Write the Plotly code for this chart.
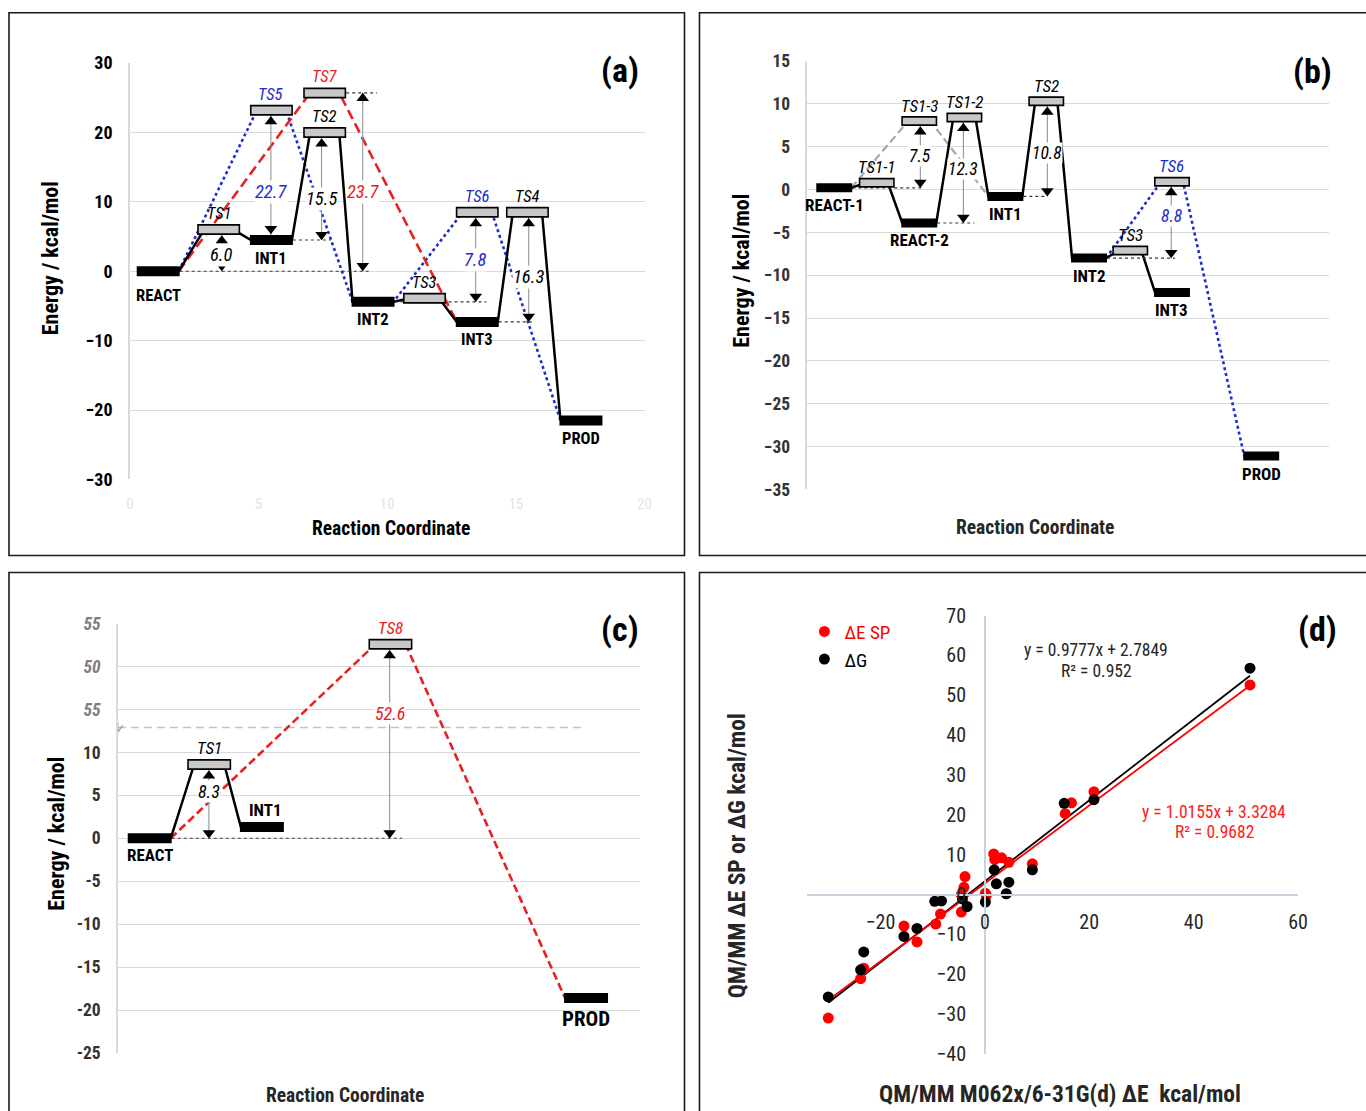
import numpy as np
import plotly.graph_objects as go

W, H = 1366, 1111
FONT = "Liberation Sans Narrow, Roboto Condensed, Roboto, Liberation Sans, sans-serif"
BLACK = "#000000"
BLUE = "#1f2ccc"
RED = "#e82020"
TSGRAY = "#c8c8c8"
LGRAY = "#a8a8a8"

# ---------------- Panel (a) data ----------------
a_states = ["REACT", "TS1", "INT1", "TS5", "TS7", "TS2", "INT2", "TS3", "INT3", "TS6", "TS4", "PROD"]
a_coord = [1.10, 3.45, 5.50, 5.50, 7.57, 7.57, 9.45, 11.45, 13.50, 13.50, 15.45, 17.53]
a_energy = [0.0, 6.0, 4.5, 23.2, 25.7, 20.0, -4.4, -3.9, -7.3, 8.5, 8.5, -21.5]
a_label_color = ["black", "black", "black", "blue", "red", "black", "black", "black", "black", "blue", "black", "black"]
a_black_path = ["REACT", "TS1", "INT1", "TS2", "INT2", "TS3", "INT3", "TS4", "PROD"]
a_blue_path = ["REACT", "TS5", "INT2", "TS6", "PROD"]
a_red_path = ["REACT", "TS7", "INT3"]
a_barrier_text = ["6.0", "22.7", "15.5", "23.7", "7.8", "16.3"]
a_barrier_coord = [3.57, 5.48, 7.45, 9.05, 13.44, 15.50]
a_barrier_from = ["REACT", "INT1", "INT1", "REACT", "INT2", "INT3"]
a_barrier_to = ["TS1", "TS5", "TS2", "TS7", "TS6", "TS4"]
a_barrier_text_y = [2.3, 11.4, 10.4, 11.4, 1.6, -0.9]
a_barrier_color = ["black", "blue", "black", "red", "blue", "black"]
a_guide_from = ["REACT", "INT1", "TS7", "INT2", "INT3"]
a_guide_to = [9.3, 7.8, 9.6, 13.85, 15.7]
a_x_ticks = [0, 5, 10, 15, 20]
a_y_ticks = [-30, -20, -10, 0, 10, 20, 30]

# ---------------- Panel (b) data ----------------
b_states = ["REACT-1", "TS1-1", "REACT-2", "TS1-3", "TS1-2", "INT1", "TS2", "INT2", "TS3", "INT3", "TS6", "PROD"]
b_coord = [1.03, 2.66, 4.29, 4.29, 6.02, 7.59, 9.16, 10.80, 12.38, 13.98, 13.98, 17.40]
b_energy = [0.2, 0.8, -3.9, 8.0, 8.4, -0.8, 10.3, -8.0, -7.1, -12.0, 0.9, -31.1]
b_label_color = ["black"] * 10 + ["blue", "black"]
b_black_path = ["REACT-1", "TS1-1", "REACT-2", "TS1-2", "INT1", "TS2", "INT2", "TS3", "INT3"]
b_gray_path = ["REACT-1", "TS1-3", "INT1"]
b_blue_path = ["INT2", "TS6", "PROD"]
b_barrier_text = ["7.5", "12.3", "10.8", "8.8"]
b_barrier_coord = [4.33, 5.98, 9.20, 13.95]
b_barrier_from = ["REACT-1", "REACT-2", "INT1", "INT2"]
b_barrier_to = ["TS1-3", "TS1-2", "TS2", "TS6"]
b_barrier_text_y = [3.9, 2.4, 4.25, -3.1]
b_barrier_color = ["black", "black", "black", "blue"]
b_guide_from = ["REACT-1", "REACT-2", "INT1", "INT2"]
b_guide_to = [4.4, 6.4, 9.2, 14.1]
b_y_ticks = [-35, -30, -25, -20, -15, -10, -5, 0, 5, 10, 15]

# ---------------- Panel (c) data ----------------
c_states = ["REACT", "TS1", "INT1", "TS8", "PROD"]
c_coord = [1.22, 3.50, 5.52, 10.45, 17.95]
c_energy = [0.0, 8.6, 1.3, 52.6, -18.6]
c_label_color = ["black", "black", "black", "red", "black"]
c_black_path = ["REACT", "TS1", "INT1"]
c_red_path = ["REACT", "TS8", "PROD"]
c_barrier_text = ["8.3", "52.6"]
c_barrier_coord = [3.49, 10.42]
c_barrier_from = ["REACT", "REACT"]
c_barrier_to = ["TS1", "TS8"]
c_barrier_text_y = [5.5, 14.5]
c_barrier_color = ["black", "red"]
c_guide_from = ["REACT"]
c_guide_to = [10.9]
c_y_ticks = [-25, -20, -15, -10, -5, 0, 5, 10, 15, 20, 25]
c_y_ticktext = ["-25", "-20", "-15", "-10", "-5", "0", "5", "10", "55", "50", "55"]
c_break_level = 12.9
c_break_shift = 30.0

# ---------------- Panel (d) data ----------------
d_x_dE = [-30.0, -23.8, -23.2, -15.5, -13.0, -9.4, -8.5, -4.5, -4.5, -4.0, -3.8, 0.1, 0.3,
          1.7, 1.9, 3.2, 4.6, 9.1, 15.4, 16.6, 20.9, 50.8]
d_y_dE = [-31.0, -21.1, -18.5, -7.9, -11.9, -7.4, -4.9, -4.4, 0.0, 1.8, 4.5, 0.3, -0.2,
          10.2, 8.8, 9.2, 8.1, 7.7, 20.3, 23.0, 25.8, 52.6]
d_x_dG = [-30.0, -23.8, -23.2, -15.5, -13.0, -9.6, -8.3, -4.3, -3.4, 0.1, 1.8, 2.2, 4.1,
          4.6, 9.1, 15.2, 20.9, 50.8]
d_y_dG = [-25.7, -18.9, -14.4, -10.5, -8.5, -1.7, -1.6, -1.1, -3.0, -1.9, 6.2, 2.7, 0.2,
          3.1, 6.2, 22.9, 23.8, 56.8]
d_trend_black = (1.0155, 3.3284)
d_trend_red = (0.9777, 2.7849)
d_x_ticks = [-20, 0, 20, 40, 60]
d_y_ticks = [-40, -30, -20, -10, 0, 10, 20, 30, 40, 50, 60, 70]

# ---------------- page geometry ----------------
# the photographed page maps figure pixels p -> OFF + SCALE * p; compensate so that
# the layout is specified in target-picture pixels
OX, OY, SX, SY = 4.0, 12.0, 0.9905, 0.9775


def cx(px):
    return (px - OX) / SX


def cy(py):
    return (py - OY) / SY


def fx(px):
    return cx(px) / W


def fy(py):
    return 1 - cy(py) / H


PANELS = {
    "a": dict(xa="x", ya="y", xpx=(130, 645), ypx=(63, 479), xr=(0, 20), yr=(-30, 30)),
    "b": dict(xa="x2", ya="y2", xpx=(808, 1330), ypx=(61, 489), xr=(0, 20), yr=(-35, 15)),
    "c": dict(xa="x3", ya="y3", xpx=(118, 640), ypx=(623, 1052), xr=(0, 20), yr=(-25, 25)),
    "d": dict(xa="x4", ya="y4", xpx=(808, 1299), ypx=(615, 1053), xr=(-34, 60), yr=(-40, 70)),
}
for P in PANELS.values():
    x0, x1 = cx(P["xpx"][0]), cx(P["xpx"][1])
    y0, y1 = cy(P["ypx"][0]), cy(P["ypx"][1])
    P["ppx"] = (x1 - x0) / (P["xr"][1] - P["xr"][0])
    P["ppy"] = (y1 - y0) / (P["yr"][1] - P["yr"][0])
    P["xdom"] = [x0 / W, x1 / W]
    P["ydom"] = [1 - y1 / H, 1 - y0 / H]

COLORS = {"black": BLACK, "blue": BLUE, "red": RED}

fig = go.Figure()


def add_line(P, xs, ys, color, width, dash="solid"):
    fig.add_trace(go.Scatter(x=xs, y=ys, xaxis=P["xa"], yaxis=P["ya"], mode="lines",
                             line=dict(color=color, width=width, dash=dash),
                             hoverinfo="skip", showlegend=False))


def draw_energy(P, states, coord, energy, label_color, paths, guide_from, guide_to,
                btext, bcoord, bfrom, bto, bty, bcolor, bar_px, bar_h, lab_size, num_size,
                lab_override=None):
    ppx, ppy = P["ppx"], P["ppy"]
    hw = bar_px / SX / 2 / ppx
    pos = {s: (c, e) for s, c, e in zip(states, coord, energy)}
    is_ts = {s: s.startswith("TS") for s in states}
    for seq, color, dash, width in paths:
        xs, ys = [], []
        for i, s in enumerate(seq):
            c, e = pos[s]
            ins = (7 if is_ts[s] else 1) / ppx
            if i > 0:
                xs.append(c - hw + ins); ys.append(e)
            if i < len(seq) - 1:
                xs.append(c + hw - ins); ys.append(e)
        add_line(P, xs, ys, color, width, dash)
    for s, xe in zip(guide_from, guide_to):
        c, e = pos[s]
        add_line(P, [c + hw, xe], [e, e], "#3a3a3a", 1.2, "dot")
    for t, bx, f, to, ty, col in zip(btext, bcoord, bfrom, bto, bty, bcolor):
        add_line(P, [bx, bx], [pos[to][1], pos[f][1]], "#8a8a8a", 1)
    for s in states:
        c, e = pos[s]
        if is_ts[s]:
            add_line(P, [c - hw, c + hw], [e, e], BLACK, bar_h + 1)
            add_line(P, [c - hw + 1.6 / ppx, c + hw - 1.6 / ppx], [e, e], TSGRAY, bar_h - 2.5)
        else:
            add_line(P, [c - hw, c + hw], [e, e], BLACK, bar_h)
    for t, bx, f, to, ty, col in zip(btext, bcoord, bfrom, bto, bty, bcolor):
        top = pos[to][1]
        bot = pos[f][1]
        top_bar = abs(pos[to][0] - bx) < hw
        bot_bar = abs(pos[f][0] - bx) < hw
        ytop = top - ((bar_h / 2 + 1) * top_bar + 5.5) / ppy
        ybot = bot + ((bar_h / 2 + 1) * bot_bar + 5.5) / ppy
        fig.add_trace(go.Scatter(x=[bx, bx], y=[ytop, ybot], xaxis=P["xa"], yaxis=P["ya"],
                                 mode="markers", hoverinfo="skip", showlegend=False,
                                 marker=dict(symbol=["triangle-up", "triangle-down"], size=11,
                                             color=BLACK, line=dict(width=0))))
        fig.add_annotation(x=bx, y=ty, xref=P["xa"], yref=P["ya"], text=f"<i>{t}</i>",
                           showarrow=False, bgcolor="white", borderpad=0,
                           font=dict(family=FONT, size=num_size, color=COLORS[col]))
    lab_override = lab_override or {}
    for s, lc in zip(states, label_color):
        c, e = pos[s]
        if is_ts[s]:
            txt, shift = f"<i>{s}</i>", bar_h / 2 + 11
        else:
            txt, shift = f"<b>{s}</b>", -(bar_h / 2 + 13)
        dx, shift, size = lab_override.get(s, (0, shift, lab_size))
        fig.add_annotation(x=c + dx, y=e, xref=P["xa"], yref=P["ya"], text=txt, yshift=shift,
                           showarrow=False, font=dict(family=FONT, size=size, color=COLORS[lc]))


PA = PANELS["a"]
draw_energy(PA, a_states, a_coord, a_energy, a_label_color,
            [(a_blue_path, BLUE, "dot", 2.6), (a_red_path, RED, "10px,5px", 2.6),
             (a_black_path, BLACK, "solid", 2.5)],
            a_guide_from, a_guide_to, a_barrier_text, a_barrier_coord, a_barrier_from,
            a_barrier_to, a_barrier_text_y, a_barrier_color, 43, 10, 16.5, 18.5,
            {"REACT": (0, -24, 16.5)})

PB = PANELS["b"]
draw_energy(PB, b_states, b_coord, b_energy, b_label_color,
            [(b_gray_path, LGRAY, "8px,4px", 2.2), (b_blue_path, BLUE, "dot", 2.6),
             (b_black_path, BLACK, "solid", 2.5)],
            b_guide_from, b_guide_to, b_barrier_text, b_barrier_coord, b_barrier_from,
            b_barrier_to, b_barrier_text_y, b_barrier_color, 36, 9, 17, 17.5)

PC = PANELS["c"]
c_display = [e - c_break_shift if e > c_break_level + c_break_shift else e for e in c_energy]
add_line(PC, [0, 17.9], [c_break_level, c_break_level], "#c4c4c4", 1.5, "8px,5px")
draw_energy(PC, c_states, c_coord, c_display, c_label_color,
            [(c_red_path, RED, "8px,4px", 2.6), (c_black_path, BLACK, "solid", 2.5)],
            c_guide_from, c_guide_to, c_barrier_text, c_barrier_coord, c_barrier_from,
            c_barrier_to, c_barrier_text_y, c_barrier_color, 44, 10, 17, 18,
            {"INT1": (0.13, 17, 17), "PROD": (0, -21, 21), "REACT": (0, -17, 17)})
zx = [-0.18, 0.0, 0.0, 0.18]
zy = [c_break_level - 0.25, c_break_level + 0.55, c_break_level - 0.55, c_break_level + 0.25]
fig.add_trace(go.Scatter(x=zx, y=zy, xaxis="x3", yaxis="y3", mode="lines", cliponaxis=False,
                         line=dict(color="#9a9a9a", width=1.2), hoverinfo="skip", showlegend=False))

PD = PANELS["d"]
for xs, (k, b0), col in [(d_x_dG, d_trend_black, BLACK), (d_x_dE, d_trend_red, "#ff0000")]:
    xl = np.array([min(xs), max(xs)])
    fig.add_trace(go.Scatter(x=xl, y=k * xl + b0, xaxis="x4", yaxis="y4", mode="lines",
                             line=dict(color=col, width=1.8), hoverinfo="skip", showlegend=False))
for xs, ys, col, nm in [(d_x_dE, d_y_dE, "#ff0000", "<span style='color:#ff0000'>ΔE SP</span>"),
                        (d_x_dG, d_y_dG, BLACK, "ΔG")]:
    fig.add_trace(go.Scatter(x=xs, y=ys, xaxis="x4", yaxis="y4", mode="markers", name=nm,
                             marker=dict(color=col, size=11, line=dict(width=0))))

d_xpos = PD["xdom"][0] + (0 - PD["xr"][0]) / (PD["xr"][1] - PD["xr"][0]) * (PD["xdom"][1] - PD["xdom"][0])
d_ypos = PD["ydom"][0] + (0 - PD["yr"][0]) / (PD["yr"][1] - PD["yr"][0]) * (PD["ydom"][1] - PD["ydom"][0])


def pann(px, py, text, size, color="black", angle=0):
    fig.add_annotation(x=fx(px), y=fy(py), xref="paper", yref="paper", text=text,
                       showarrow=False, textangle=angle, xanchor="center", yanchor="middle",
                       font=dict(family=FONT, size=size, color=color))


pann(620, 70, "<b>(a)</b>", 34)
pann(1313, 71, "<b>(b)</b>", 34)
pann(620, 628, "<b>(c)</b>", 34)
pann(1318, 628, "<b>(d)</b>", 34)
pann(50, 258, "<b>Energy / kcal/mol</b>", 22, angle=-90)
pann(742, 270, "<b>Energy / kcal/mol</b>", 22, angle=-90)
pann(57, 833, "<b>Energy / kcal/mol</b>", 22, angle=-90)
pann(391, 528, "<b>Reaction Coordinate</b>", 19.5)
pann(1036, 527, "<b>Reaction Coordinate</b>", 19.5, color="#262626")
pann(345, 1095, "<b>Reaction Coordinate</b>", 19.5, color="#262626")
pann(737, 855, "<b>QM/MM ΔE SP or ΔG kcal/mol</b>", 23.5, angle=-90, color="#262626")
pann(1061, 1093, "<b>QM/MM M062x/6-31G(d) ΔE  kcal/mol</b>", 23.5, color="#262626")
pann(1097, 649, "y = 0.9777x + 2.7849", 17.5, color="#262626")
pann(1097, 670, "R² = 0.952", 17.5, color="#262626")
pann(1215, 811, "y = 1.0155x + 3.3284", 17.5, color="#ff2020")
pann(1215, 831, "R² = 0.9682", 17.5, color="#ff2020")

for x0, y0, x1, y1 in [(9, 12.8, 685, 555), (700, 12.8, 1380, 555), (9, 572, 685, 1125), (700, 572, 1380, 1125)]:
    fig.add_shape(type="rect", xref="paper", yref="paper", x0=fx(x0), x1=fx(x1),
                  y0=fy(y1), y1=fy(y0), line=dict(color="#1a1a1a", width=1.6))

GRID = "#d9d9d9"
common_y = dict(showgrid=True, gridcolor=GRID, gridwidth=1.3, zeroline=False, showline=True,
                linecolor=GRID, linewidth=1.5, ticks="", ticklabelstandoff=12)
common_x = dict(showgrid=False, zeroline=False, showline=False, ticks="")
tick_bc = dict(family=FONT, size=17.5, color="#333333", weight="bold")

fig.update_layout(
    width=W, height=H, autosize=False, margin=dict(l=0, r=0, t=0, b=0, pad=0),
    paper_bgcolor="white", plot_bgcolor="white", font=dict(family=FONT),
    showlegend=True,
    legend=dict(x=fx(805), y=fy(612), xanchor="left", yanchor="top", bgcolor="rgba(0,0,0,0)",
                font=dict(family=FONT, size=19, color="black"), itemwidth=30, tracegroupgap=0),
    xaxis=dict(domain=PA["xdom"], range=PA["xr"], anchor="y", tickvals=a_x_ticks,
               tickfont=dict(family=FONT, size=15, color="#e4e4e4"), ticklabelstandoff=14, **common_x),
    yaxis=dict(domain=PA["ydom"], range=PA["yr"], anchor="x", tickvals=a_y_ticks,
               tickfont=dict(family=FONT, size=18, color="black", weight="bold"), **common_y),
    xaxis2=dict(domain=PB["xdom"], range=PB["xr"], anchor="y2", showticklabels=False, **common_x),
    yaxis2=dict(domain=PB["ydom"], range=PB["yr"], anchor="x2", tickvals=b_y_ticks,
                tickfont=tick_bc, **common_y),
    xaxis3=dict(domain=PC["xdom"], range=PC["xr"], anchor="y3", showticklabels=False, **common_x),
    yaxis3=dict(domain=PC["ydom"], range=PC["yr"], anchor="x3", tickvals=c_y_ticks,
                ticktext=[f"<i><span style='color:#7f7f7f'>{t}</span></i>" if v > c_break_level else t
                          for v, t in zip(c_y_ticks, c_y_ticktext)],
                tickfont=tick_bc, **common_y),
    xaxis4=dict(domain=PD["xdom"], range=PD["xr"], anchor="free", position=d_ypos,
                tickvals=d_x_ticks, showgrid=False, zeroline=False, showline=True,
                linecolor="#c9d3e0", linewidth=1.5, ticks="", ticklabelstandoff=10,
                tickfont=dict(family=FONT, size=20, color="#262626")),
    yaxis4=dict(domain=PD["ydom"], range=PD["yr"], anchor="free", position=d_xpos,
                tickvals=d_y_ticks, showgrid=False, zeroline=False, showline=True,
                linecolor="#c9d3e0", linewidth=1.5, ticks="", ticklabelstandoff=14,
                tickfont=dict(family=FONT, size=20, color="#262626")),
)

fig.write_html("out.html", config={"displayModeBar": False, "responsive": False},
               post_script=["document.body.style.margin='0';document.body.style.overflow='hidden';"
                            "document.documentElement.style.overflow='hidden';"])
